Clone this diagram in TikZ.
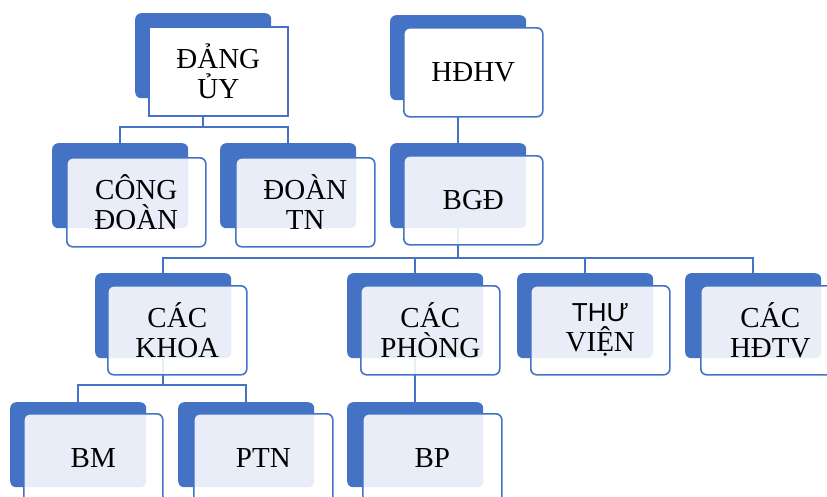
\documentclass[tikz,border=0pt]{standalone}
\usepackage{fontspec}
\setmainfont{Liberation Serif}
\newfontfamily\sansthu{Liberation Sans}
\usetikzlibrary{backgrounds}
\definecolor{myblue}{HTML}{4472C4}
\tikzset{
  backbox/.style={anchor=north west, minimum width=136pt, minimum height=85pt, rounded corners=6pt, fill=myblue, draw=none, inner sep=0pt},
  frontbox/.style={anchor=north west, minimum width=139pt, minimum height=89pt, rounded corners=6pt, draw=myblue, line width=1.6pt, fill=white, fill opacity=0.88, text opacity=1, align=center, inner sep=0pt, font=\fontsize{29}{30}\selectfont},
  solidbox/.style={frontbox, fill opacity=1, sharp corners},
  link/.style={draw=myblue, line width=1.8pt}
}
\begin{document}
\begin{tikzpicture}[x=1pt,y=-1pt]
\useasboundingbox (0,0) rectangle (827,496);
% back tabs
\node[backbox] (dangB)  at (135,13)  {};
\node[backbox] (hdhvB)  at (390,15)  {};
\node[backbox] (congB)  at (52,143)  {};
\node[backbox] (doanB)  at (220,143) {};
\node[backbox] (bgdB)   at (390,143) {};
\node[backbox] (khoaB)  at (95,273)  {};
\node[backbox] (phongB) at (347,273) {};
\node[backbox] (thuB)   at (517,273) {};
\node[backbox] (hdtvB)  at (685,273) {};
\node[backbox] (bmB)    at (10,402)  {};
\node[backbox] (ptnB)   at (178,402) {};
\node[backbox] (bpB)    at (347,402) {};
% front boxes
\node[solidbox] (dang)  at (148,26)  {ĐẢNG\\ỦY};
\node[frontbox, fill opacity=1] (hdhv) at (403,27) {HĐHV};
\node[frontbox] (cong)  at (66,157)  {CÔNG\\ĐOÀN};
\node[frontbox] (doan)  at (235,157) {ĐOÀN\\TN};
\node[frontbox] (bgd)   at (403,155) {BGĐ};
\node[frontbox] (khoa)  at (107,285) {CÁC\\KHOA};
\node[frontbox] (phong) at (360,285) {CÁC\\PHÒNG};
\node[frontbox] (thu)   at (530,285) {{\sansthu\fontsize{26}{30}\selectfont THƯ}\\VIỆN};
\node[frontbox] (hdtv)  at (700,285) {CÁC\\HĐTV};
\node[frontbox] (bm)    at (23,413)  {BM};
\node[frontbox] (ptn)   at (193,413) {PTN};
\node[frontbox] (bp)    at (362,413) {BP};
% levels
\coordinate (l1) at (0,127);
\coordinate (l2) at (0,258);
\coordinate (l3) at (0,385);
\begin{scope}[on background layer]
\draw[link] (dangB.south) -- (dangB.south |- l1) -| (congB.north);
\draw[link] (dangB.south |- l1) -| (doanB.north);
\draw[link] (hdhvB.south) -- (bgdB.north);
\draw[link] (bgdB.south) -- (bgdB.south |- l2) -| (khoaB.north);
\draw[link] (bgdB.south |- l2) -| (phongB.north);
\draw[link] (bgdB.south |- l2) -| (thuB.north);
\draw[link] (bgdB.south |- l2) -| (hdtvB.north);
\draw[link] (khoaB.south) -- (khoaB.south |- l3) -| (bmB.north);
\draw[link] (khoaB.south |- l3) -| (ptnB.north);
\draw[link] (phongB.south) -- (bpB.north);
\end{scope}
\end{tikzpicture}
\end{document}
